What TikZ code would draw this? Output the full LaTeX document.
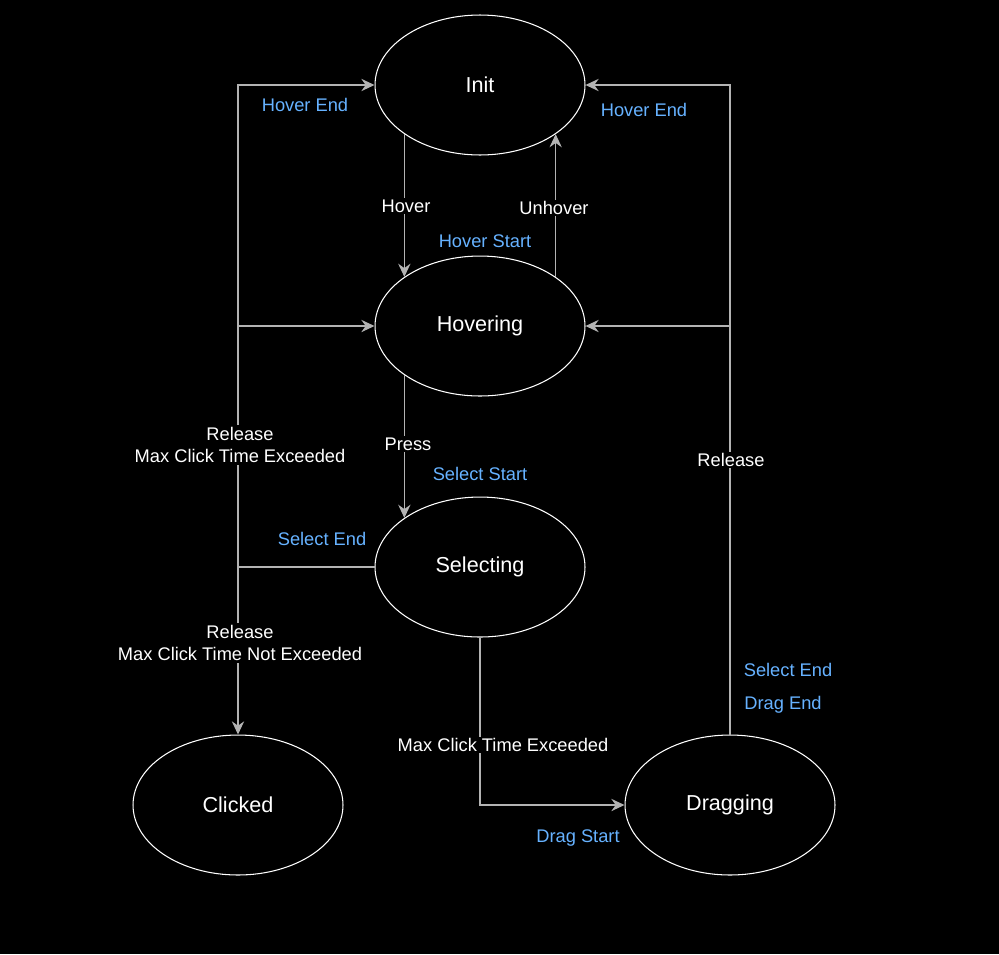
\documentclass[tikz,border=0pt]{standalone}
\usepackage{fontspec}
\setmainfont{Liberation Sans}
\usepackage{tikz}
\usetikzlibrary{shapes,arrows.meta,positioning,calc}
\usepackage{xcolor}
\definecolor{edgegray}{HTML}{B3B3B3}
\definecolor{noteblue}{HTML}{66B2FF}

\begin{document}
\begin{tikzpicture}[
    x=0.02cm, y=-0.02cm,
    state/.style={ellipse, draw=white, line width=0.6pt, text=white, minimum width=4.2cm, minimum height=2.8cm, font=\fontsize{12.3}{14}\selectfont},
    line/.style={draw=edgegray, line width=0.7pt, -{Stealth[length=7.5pt,width=7pt,inset=2.5pt]}},
    trans/.style={fill=black, text=white, inner sep=1pt, align=center, font=\fontsize{10.4}{12.6}\selectfont},
    note/.style={text=noteblue, inner sep=1pt, font=\fontsize{10.4}{12}\selectfont}
]

% Background and frame
\fill[black] (0,0) rectangle (999,954);
\useasboundingbox (0,0) rectangle (999,954);

% States
\node (init) [state] at (480,85) {Init};
\node (hovering) [state, below=2cm of init] {Hovering};
\node (selecting) [state, below=2cm of hovering] {Selecting};
\node (clicked) [state] at (238,805) {Clicked};
\node (dragging) [state] at (730,805) {Dragging};

% Init <-> Hovering
\draw[line] (init.213) -- (hovering.147);
\draw[line] (hovering.33) -- (init.327);
\node (hoverlbl) [trans] at (406,206) {Hover};
\node (unhoverlbl) [trans] at (554,208) {Unhover};

% Hovering -> Selecting
\draw[line] (hovering.213) -- (selecting.147);
\node (presslbl) [trans] at (408,444) {Press};

% Selecting -> left side
\draw[line] (selecting.west) -| (clicked.north);
\draw[line] (selecting.west) -| (clicked.north |- init.west) -- (init.west);
\draw[line] (clicked.north |- hovering.west) -- (hovering.west);
\node (relexc) [trans] at (240,445) {Release\\Max Click Time Exceeded};
\node (relnotexc) [trans] at (240,643) {Release\\Max Click Time Not Exceeded};

% Selecting -> Dragging
\draw[line] (selecting.south) |- (dragging.west);
\node (maxlbl) [trans] at (503,745) {Max Click Time Exceeded};

% Dragging -> Init / Hovering
\draw[line] (dragging.north) |- (init.east);
\draw[line] (dragging.north |- hovering.east) -- (hovering.east);
\node (rellbl) [trans] at (731,460) {Release};

% Event notes
\node (hoverend1) [note] at (305,105) {Hover End};
\node (hoverend2) [note] at (644,110) {Hover End};
\node (hoverstart) [note] at (485,241) {Hover Start};
\node (selectstart) [note] at (480,474) {Select Start};
\node (selectend1) [note] at (322,539) {Select End};
\node (selectend2) [note] at (788,670) {Select End};
\node (dragend) [note] at (783,705) {Drag End};
\node (dragstart) [note] at (578,838) {Drag Start};

\end{tikzpicture}
\end{document}
